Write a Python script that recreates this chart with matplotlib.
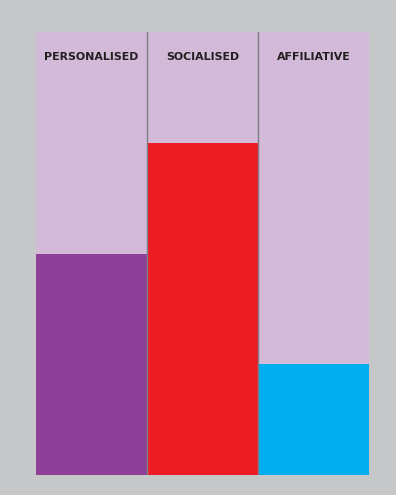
import matplotlib
matplotlib.use("Agg")
import matplotlib.pyplot as plt

categories = ["PERSONALISED", "SOCIALISED", "AFFILIATIVE"]
values = [50, 75, 25]
full_scale = [100, 100, 100]
bar_colors = ["#8E3F98", "#ED1C24", "#00AEEF"]

BG = "#C6C7C9"
TRACK = "#D3BAD8"
DIVIDER = "#7E7D84"
TEXT = "#231F20"

fig = plt.figure(figsize=(3.96, 4.95), dpi=100)
fig.patch.set_facecolor(BG)
ax = fig.add_axes([36 / 396, 20 / 495, 333 / 396, 443 / 495])
ax.set_facecolor(BG)

x = list(range(len(categories)))
ax.bar(x, full_scale, width=1.0, color=TRACK, linewidth=0, zorder=1)
ax.bar(x, values, width=1.0, color=bar_colors, linewidth=0, zorder=2)

# thin separators between the columns
for b in [0.5, 1.5]:
    ax.axvline(b, color=DIVIDER, linewidth=1.0, zorder=3)

for xi, name in zip(x, categories):
    ax.text(xi, 94.3, name, ha="center", va="center", fontsize=7.9,
            fontweight="bold", color=TEXT, family="DejaVu Sans", zorder=4)

ax.set_xlim(-0.5, len(categories) - 0.5)
ax.set_ylim(0, 100)
ax.set_xticks([])
ax.set_yticks([])
for s in ax.spines.values():
    s.set_visible(False)

fig.savefig("out.png", dpi=100, facecolor=BG)
